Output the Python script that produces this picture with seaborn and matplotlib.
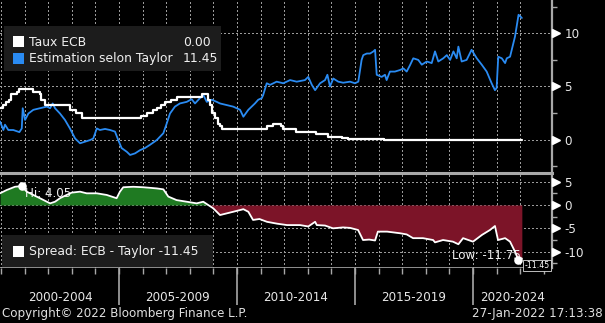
import numpy as np
import pandas as pd
import matplotlib
matplotlib.use("Agg")
import matplotlib.pyplot as plt
import matplotlib.transforms as mtransforms
from matplotlib.patches import Rectangle
import seaborn as sns

# ---------------- data ----------------
ecb_dates = [1999.85, 2000.09, 2000.21, 2000.32, 2000.44, 2000.67, 2000.76, 2001.36, 2001.66,
             2001.71, 2001.86, 2002.93, 2003.18, 2003.43, 2005.93, 2006.18, 2006.45, 2006.61,
             2006.78, 2006.95, 2007.20, 2007.45, 2008.52, 2008.77, 2008.86, 2008.94, 2009.05,
             2009.19, 2009.27, 2009.36, 2011.28, 2011.53, 2011.86, 2011.95, 2012.52, 2013.35,
             2013.87, 2014.44, 2014.69, 2016.21, 2022.07]
ecb_rate = [3.0, 3.25, 3.5, 3.75, 4.25, 4.5, 4.75, 4.5, 4.25,
            3.75, 3.25, 2.75, 2.5, 2.0, 2.25, 2.5, 2.75, 3.0,
            3.25, 3.5, 3.75, 4.0, 4.25, 3.75, 3.25, 2.5, 2.0,
            1.5, 1.25, 1.0, 1.25, 1.5, 1.25, 1.0, 0.75, 0.5,
            0.25, 0.15, 0.05, 0.0, 0.0]

taylor_dates = [1999.96, 2000.10, 2000.17, 2000.31, 2000.52, 2000.78, 2000.88, 2000.92, 2001.02,
                2001.16, 2001.37, 2001.65, 2001.94, 2002.08, 2002.19, 2002.29, 2002.50, 2002.71,
                2002.92, 2003.14, 2003.35, 2003.56, 2003.77, 2003.91, 2004.06, 2004.19, 2004.41,
                2004.62, 2004.83, 2004.97, 2005.11, 2005.33, 2005.47, 2005.68, 2005.89, 2006.10,
                2006.31, 2006.60, 2006.88, 2007.02, 2007.16, 2007.37, 2007.58, 2007.87, 2008.08,
                2008.22, 2008.43, 2008.57, 2008.72, 2008.93, 2009.14, 2009.28, 2009.56, 2009.84,
                2010.13, 2010.27, 2010.48, 2010.76, 2010.90, 2011.05, 2011.11, 2011.26, 2011.40,
                2011.68, 2011.96, 2012.25, 2012.53, 2012.88, 2013.02, 2013.17, 2013.31, 2013.52,
                2013.73, 2013.83, 2013.94, 2014.08, 2014.29, 2014.50, 2014.79, 2015.00, 2015.14,
                2015.28, 2015.35, 2015.50, 2015.64, 2015.78, 2015.85, 2015.92, 2016.13, 2016.27,
                2016.34, 2016.48, 2016.69, 2016.91, 2017.05, 2017.19, 2017.33, 2017.47, 2017.68,
                2017.83, 2018.04, 2018.25, 2018.39, 2018.53, 2018.74, 2018.89, 2019.03, 2019.17,
                2019.31, 2019.38, 2019.52, 2019.73, 2019.94, 2020.16, 2020.37, 2020.58, 2020.79,
                2020.93, 2021.00, 2021.07, 2021.22, 2021.36, 2021.43, 2021.57, 2021.78, 2021.93,
                2022.07]
taylor_est = [1.7, 0.9, 1.4, 0.9, 0.9, 0.7, 1.05, 2.95, 1.85,
              2.45, 2.8, 2.95, 3.1, 2.95, 3.4, 2.95, 2.45, 1.85,
              1.05, 0.1, -0.35, -0.2, -0.05, 0.1, 1.05, 0.9, 1.0,
              0.9, 0.75, -0.05, -0.8, -1.15, -1.45, -1.3, -1.0, -0.8,
              -0.5, -0.05, 0.6, 1.5, 2.45, 3.1, 3.4, 3.55, 3.8,
              3.4, 3.9, 4.2, 3.55, 3.75, 3.55, 3.4, 3.25, 3.1,
              2.8, 2.15, 2.8, 3.4, 3.75, 3.9, 4.2, 5.3, 5.15,
              5.45, 5.3, 5.6, 5.45, 5.6, 5.9, 5.15, 4.65, 5.3,
              5.6, 6.1, 5.0, 5.75, 5.45, 5.35, 5.45, 5.3, 5.45,
              7.5, 7.95, 8.1, 8.1, 8.3, 8.45, 6.1, 5.9, 6.1,
              5.6, 6.4, 6.4, 6.55, 6.7, 6.4, 7.0, 7.65, 7.5,
              7.05, 7.35, 7.2, 8.3, 7.35, 7.65, 7.95, 7.5, 8.3,
              7.65, 8.75, 7.35, 7.5, 8.45, 7.65, 7.05, 6.4, 5.3,
              4.65, 4.85, 7.8, 7.65, 7.2, 7.65, 7.8, 9.7, 11.75,
              11.45]

spread_dates = [1999.96, 2000.24, 2000.59, 2000.88, 2001.09, 2001.37, 2001.65, 2002.08, 2002.29,
                2002.50, 2002.78, 2003.00, 2003.35, 2003.63, 2004.06, 2004.48, 2004.90, 2005.04,
                2005.18, 2005.61, 2006.03, 2006.60, 2006.88, 2007.09, 2007.44, 2007.87, 2008.29,
                2008.57, 2008.78, 2008.99, 2009.28, 2009.56, 2009.84, 2010.27, 2010.48, 2010.68,
                2010.95, 2011.27, 2011.70, 2012.12, 2012.67, 2013.02, 2013.31, 2013.38, 2013.73,
                2014.07, 2014.49, 2014.79, 2015.13, 2015.34, 2015.60, 2015.85, 2015.97, 2016.36,
                2016.91, 2017.19, 2017.46, 2017.88, 2018.31, 2018.39, 2018.73, 2019.15, 2019.38,
                2019.58, 2020.00, 2020.38, 2020.72, 2020.93, 2021.06, 2021.36, 2021.57, 2021.78,
                2021.92, 2022.07]
spread_vals = [2.5, 3.2, 3.9, 4.05, 2.85, 2.15, 1.45, 0.35, 0.7,
               1.45, 2.15, 2.65, 2.85, 2.5, 2.5, 2.15, 1.45, 2.85,
               3.8, 3.9, 3.8, 3.55, 3.35, 1.8, 1.05, 0.7, 0.35,
               0.7, 0.0, -0.7, -2.15, -1.8, -1.45, -0.9, -1.45, -3.2,
               -3.0, -3.6, -4.0, -4.3, -4.3, -4.6, -3.6, -4.3, -4.4,
               -5.0, -4.8, -4.9, -5.35, -7.5, -7.4, -7.6, -5.7, -5.7,
               -6.05, -6.3, -7.1, -7.1, -7.5, -8.0, -7.5, -7.85, -8.4,
               -7.1, -7.85, -6.4, -5.35, -4.5, -7.5, -7.1, -7.85, -10.0,
               -11.75, -11.45]

period_labels = ["2000-2004", "2005-2009", "2010-2014", "2015-2019", "2020-2024"]
period_starts = [2000, 2005, 2010, 2015, 2020]
top_ticks = [0, 5, 10]
top_minor = [-2.5, 2.5, 7.5, 12.5]
bottom_ticks = [-10, -5, 0, 5]
bottom_minor = [-12.5, -7.5, -2.5, 2.5]
grid_years = list(range(2000, 2023))
legend_top = ["Taux ECB", "Estimation selon Taylor"]
legend_bottom = "Spread: ECB - Taylor"
copyright_text = "Copyright\u00a9 2022 Bloomberg Finance L.P."
timestamp_text = "27-Jan-2022 17:13:38"

df_ecb = pd.DataFrame({"date": ecb_dates, "rate": ecb_rate})
df_tay = pd.DataFrame({"date": taylor_dates, "est": taylor_est})
df_spr = pd.DataFrame({"date": spread_dates, "spread": spread_vals})
ts = np.array(spread_dates)
sv = np.array(spread_vals)

# ---------------- style ----------------
sns.set_theme(style="dark", rc={"axes.facecolor": "black", "figure.facecolor": "black",
                                "text.color": "#e6e6e6", "axes.edgecolor": "#9a9a9a"})
plt.rcParams["font.family"] = ["DejaVu Sans"]

W, H = 605, 323
fig = plt.figure(figsize=(W / 100, H / 100), dpi=100, facecolor="black")


def fx(px):
    return px / W


def fy(py):
    return 1 - py / H


AXR = 552
XMIN, XMAX = 2000 - 1 / 23.6, 2000 + 551 / 23.6
GRID = "#9a9a9a"
SPINE = "#a8a8a8"
BLUE = "#2a8bf2"
GREEN = "#1f7a22"
RED = "#7c1428"
FS = 8.6

ax1 = fig.add_axes([0, fy(171), fx(AXR), 171 / H])
ax2 = fig.add_axes([0, fy(268), fx(AXR), (268 - 173) / H])
ax3 = fig.add_axes([0, fy(312), fx(AXR), (312 - 268) / H])

for ax in (ax1, ax2, ax3):
    ax.set_facecolor("black")
    ax.set_xlim(XMIN, XMAX)
    for s in ax.spines.values():
        s.set_visible(False)

ax1.set_ylim(-2.96, 13.14)
ax2.set_ylim(-13.49, 6.85)

# dotted grids
for ax, ticks in ((ax1, top_ticks), (ax2, bottom_ticks)):
    for v in ticks:
        ax.axhline(v, color=GRID, ls=(0, (1.6, 2.4)), lw=0.75, zorder=1.5, antialiased=False)
    for yr in grid_years:
        ax.axvline(yr, color=GRID, ls=(0, (1.6, 2.4)), lw=0.75, zorder=1.5, antialiased=False)

# top lines
sns.lineplot(data=df_tay, x="date", y="est", ax=ax1, color=BLUE, lw=1.3,
             estimator=None, sort=False, zorder=3)
sns.lineplot(data=df_ecb, x="date", y="rate", ax=ax1, color="white", lw=1.6,
             estimator=None, sort=False, drawstyle="steps-post", zorder=4)

# bottom: spread with fills
ax2.fill_between(ts, 0, sv, where=sv >= 0, interpolate=True, color=GREEN, lw=0, zorder=2)
ax2.fill_between(ts, 0, sv, where=sv <= 0, interpolate=True, color=RED, lw=0, zorder=2)
sns.lineplot(data=df_spr, x="date", y="spread", ax=ax2, color="white", lw=1.3,
             estimator=None, sort=False, zorder=4)

imax, imin = int(np.argmax(sv)), int(np.argmin(sv))
ax2.scatter([ts[imax], ts[imin]], [sv[imax], sv[imin]], s=38, color="white",
            zorder=6, clip_on=False, linewidths=0)
ax2.annotate(f"Hi: {sv[imax]:.2f}", (ts[imax], sv[imax]), xytext=(2.5, -5.5),
             textcoords="offset points", ha="left", va="center", color="#f0f0f0",
             fontsize=FS, zorder=3)
ax2.annotate(f"Low: {sv[imin]:.2f}", (ts[imin], sv[imin]), xytext=(1.5, 3.2),
             textcoords="offset points", ha="right", va="center", color="#f0f0f0",
             fontsize=FS, zorder=5)

# right axes styling
for ax, ticks, minor in ((ax1, top_ticks, top_minor), (ax2, bottom_ticks, bottom_minor)):
    ax.spines["right"].set_visible(True)
    ax.spines["right"].set_color(SPINE)
    ax.spines["right"].set_linewidth(1.6)
    ax.yaxis.tick_right()
    ax.set_yticks(ticks)
    ax.set_yticks(minor, minor=True)
    ax.set_yticklabels([f"{v:g}" for v in ticks])
    ax.tick_params(axis="y", which="major", length=0, pad=9, labelcolor="#e8e8e8", labelsize=FS)
    ax.tick_params(axis="y", which="minor", length=3.5, width=1.0, color=SPINE, direction="out")
    ax.set_xticks([])
    ax.set_xlabel("")
    ax.set_ylabel("")
    trans = mtransforms.blended_transform_factory(ax.transAxes, ax.transData)
    ax.plot([1 + 4 / AXR] * len(ticks), ticks, ls="none", marker=">", ms=5.5, color="white",
            transform=trans, clip_on=False, zorder=7)

# separator between panels and bottom axis line
ax2.spines["top"].set_visible(True)
ax2.spines["top"].set_color(SPINE)
ax2.spines["top"].set_linewidth(2.2)
ax2.spines["bottom"].set_visible(True)
ax2.spines["bottom"].set_color(SPINE)
ax2.spines["bottom"].set_linewidth(1.2)

# label strip
ax3.set_ylim(0, 1)
ax3.set_xticks([])
ax3.set_yticks([])
ax3.vlines(period_starts[1:], 0.16, 1, color=SPINE, lw=1.2)
ax3.vlines(grid_years + [2023], 0.86, 1, color=SPINE, lw=1.0)
for lab, st in zip(period_labels, period_starts):
    mid = (max(st, XMIN) + min(st + 5, XMAX)) / 2
    ax3.text(mid, 0.33, lab, ha="center", va="center", color="#e8e8e8", fontsize=FS)


# legends
def box(x0, y0, x1, y1, color="#1c1c1c"):
    fig.add_artist(Rectangle((fx(x0), fy(y1)), fx(x1 - x0), (y1 - y0) / H,
                             transform=fig.transFigure, facecolor=color, edgecolor="none",
                             zorder=10))


box(4, 26, 221, 71)
box(13, 36.5, 23.5, 47, "white")
box(13, 53, 23.5, 63.5, BLUE)
fig.text(fx(29), fy(42), legend_top[0], ha="left", va="center", fontsize=FS + 0.3,
         color="#f0f0f0", zorder=11)
fig.text(fx(29), fy(58.5), legend_top[1], ha="left", va="center", fontsize=FS + 0.3,
         color="#f0f0f0", zorder=11)
fig.text(fx(183), fy(42), f"{ecb_rate[-1]:.2f}", ha="left", va="center", fontsize=FS + 0.3,
         color="#f0f0f0", zorder=11)
fig.text(fx(183), fy(58.5), f"{taylor_est[-1]:.2f}", ha="left", va="center", fontsize=FS + 0.3,
         color="#f0f0f0", zorder=11)

box(2, 235, 213, 266.5)
box(13, 245.5, 23.5, 256.5, "white")
fig.text(fx(29), fy(251), f"{legend_bottom} {sv[-1]:.2f}", ha="left", va="center",
         fontsize=FS + 0.3, color="#f0f0f0", zorder=11)

# last-value tag
fig.text(fx(537), fy(265.5), f"{sv[-1]:.2f}", ha="center", va="center", fontsize=5.6,
         color="white", zorder=12,
         bbox=dict(boxstyle="square,pad=0.15", facecolor="black", edgecolor="#dddddd", lw=0.6))

# footer
fig.text(fx(2), fy(314), copyright_text, ha="left", va="center", fontsize=FS, color="#e0e0e0")
fig.text(fx(603), fy(314), timestamp_text, ha="right", va="center", fontsize=FS, color="#e0e0e0")

fig.savefig("out.png", dpi=100, facecolor="black")
